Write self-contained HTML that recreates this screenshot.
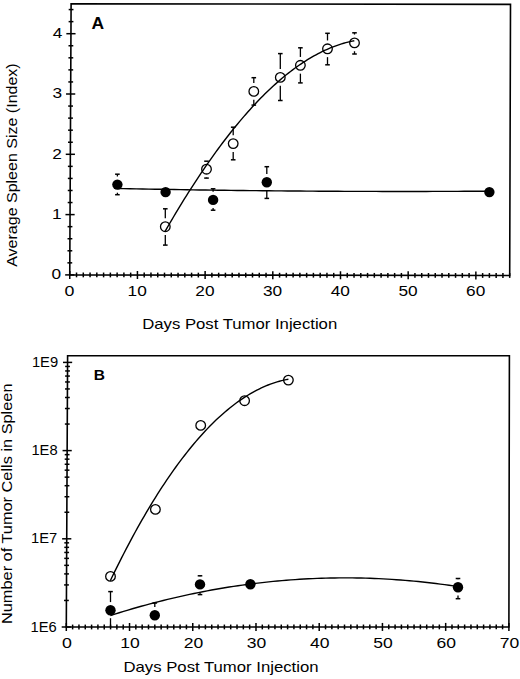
<!DOCTYPE html>
<html><head><meta charset="utf-8"><style>
html,body{margin:0;padding:0;background:#fff;width:520px;height:679px;overflow:hidden}
svg{display:block}
text{font-family:"Liberation Sans", sans-serif;fill:#000;stroke:none}
</style></head><body>
<svg width="520" height="679" viewBox="0 0 520 679">
<g stroke="#000" stroke-linecap="butt" fill="none">
<path d="M71.10,3.80 L510.50,4.40 L509.70,275.50 L69.75,274.90 Z" fill="none" stroke-width="1.6"/>
<line x1="69.75" y1="270.90" x2="69.75" y2="278.90" stroke-width="1.5"/>
<line x1="76.52" y1="272.51" x2="76.52" y2="277.31" stroke-width="1.5"/>
<line x1="83.29" y1="272.52" x2="83.29" y2="277.32" stroke-width="1.5"/>
<line x1="90.06" y1="272.53" x2="90.06" y2="277.33" stroke-width="1.5"/>
<line x1="96.82" y1="272.54" x2="96.82" y2="277.34" stroke-width="1.5"/>
<line x1="103.59" y1="272.55" x2="103.59" y2="277.35" stroke-width="1.5"/>
<line x1="110.36" y1="272.56" x2="110.36" y2="277.36" stroke-width="1.5"/>
<line x1="117.13" y1="272.56" x2="117.13" y2="277.36" stroke-width="1.5"/>
<line x1="123.90" y1="272.57" x2="123.90" y2="277.37" stroke-width="1.5"/>
<line x1="130.67" y1="272.58" x2="130.67" y2="277.38" stroke-width="1.5"/>
<line x1="137.43" y1="270.99" x2="137.43" y2="278.99" stroke-width="1.5"/>
<line x1="144.20" y1="272.60" x2="144.20" y2="277.40" stroke-width="1.5"/>
<line x1="150.97" y1="272.61" x2="150.97" y2="277.41" stroke-width="1.5"/>
<line x1="157.74" y1="272.62" x2="157.74" y2="277.42" stroke-width="1.5"/>
<line x1="164.51" y1="272.63" x2="164.51" y2="277.43" stroke-width="1.5"/>
<line x1="171.28" y1="272.64" x2="171.28" y2="277.44" stroke-width="1.5"/>
<line x1="178.05" y1="272.65" x2="178.05" y2="277.45" stroke-width="1.5"/>
<line x1="184.81" y1="272.66" x2="184.81" y2="277.46" stroke-width="1.5"/>
<line x1="191.58" y1="272.67" x2="191.58" y2="277.47" stroke-width="1.5"/>
<line x1="198.35" y1="272.68" x2="198.35" y2="277.48" stroke-width="1.5"/>
<line x1="205.12" y1="271.08" x2="205.12" y2="279.08" stroke-width="1.5"/>
<line x1="211.89" y1="272.69" x2="211.89" y2="277.49" stroke-width="1.5"/>
<line x1="218.66" y1="272.70" x2="218.66" y2="277.50" stroke-width="1.5"/>
<line x1="225.42" y1="272.71" x2="225.42" y2="277.51" stroke-width="1.5"/>
<line x1="232.19" y1="272.72" x2="232.19" y2="277.52" stroke-width="1.5"/>
<line x1="238.96" y1="272.73" x2="238.96" y2="277.53" stroke-width="1.5"/>
<line x1="245.73" y1="272.74" x2="245.73" y2="277.54" stroke-width="1.5"/>
<line x1="252.50" y1="272.75" x2="252.50" y2="277.55" stroke-width="1.5"/>
<line x1="259.27" y1="272.76" x2="259.27" y2="277.56" stroke-width="1.5"/>
<line x1="266.04" y1="272.77" x2="266.04" y2="277.57" stroke-width="1.5"/>
<line x1="272.80" y1="271.18" x2="272.80" y2="279.18" stroke-width="1.5"/>
<line x1="279.57" y1="272.79" x2="279.57" y2="277.59" stroke-width="1.5"/>
<line x1="286.34" y1="272.80" x2="286.34" y2="277.60" stroke-width="1.5"/>
<line x1="293.11" y1="272.80" x2="293.11" y2="277.60" stroke-width="1.5"/>
<line x1="299.88" y1="272.81" x2="299.88" y2="277.61" stroke-width="1.5"/>
<line x1="306.65" y1="272.82" x2="306.65" y2="277.62" stroke-width="1.5"/>
<line x1="313.41" y1="272.83" x2="313.41" y2="277.63" stroke-width="1.5"/>
<line x1="320.18" y1="272.84" x2="320.18" y2="277.64" stroke-width="1.5"/>
<line x1="326.95" y1="272.85" x2="326.95" y2="277.65" stroke-width="1.5"/>
<line x1="333.72" y1="272.86" x2="333.72" y2="277.66" stroke-width="1.5"/>
<line x1="340.49" y1="271.27" x2="340.49" y2="279.27" stroke-width="1.5"/>
<line x1="347.26" y1="272.88" x2="347.26" y2="277.68" stroke-width="1.5"/>
<line x1="354.03" y1="272.89" x2="354.03" y2="277.69" stroke-width="1.5"/>
<line x1="360.79" y1="272.90" x2="360.79" y2="277.70" stroke-width="1.5"/>
<line x1="367.56" y1="272.91" x2="367.56" y2="277.71" stroke-width="1.5"/>
<line x1="374.33" y1="272.92" x2="374.33" y2="277.72" stroke-width="1.5"/>
<line x1="381.10" y1="272.92" x2="381.10" y2="277.72" stroke-width="1.5"/>
<line x1="387.87" y1="272.93" x2="387.87" y2="277.73" stroke-width="1.5"/>
<line x1="394.64" y1="272.94" x2="394.64" y2="277.74" stroke-width="1.5"/>
<line x1="401.40" y1="272.95" x2="401.40" y2="277.75" stroke-width="1.5"/>
<line x1="408.17" y1="271.36" x2="408.17" y2="279.36" stroke-width="1.5"/>
<line x1="414.94" y1="272.97" x2="414.94" y2="277.77" stroke-width="1.5"/>
<line x1="421.71" y1="272.98" x2="421.71" y2="277.78" stroke-width="1.5"/>
<line x1="428.48" y1="272.99" x2="428.48" y2="277.79" stroke-width="1.5"/>
<line x1="435.25" y1="273.00" x2="435.25" y2="277.80" stroke-width="1.5"/>
<line x1="442.02" y1="273.01" x2="442.02" y2="277.81" stroke-width="1.5"/>
<line x1="448.78" y1="273.02" x2="448.78" y2="277.82" stroke-width="1.5"/>
<line x1="455.55" y1="273.03" x2="455.55" y2="277.83" stroke-width="1.5"/>
<line x1="462.32" y1="273.04" x2="462.32" y2="277.84" stroke-width="1.5"/>
<line x1="469.09" y1="273.04" x2="469.09" y2="277.84" stroke-width="1.5"/>
<line x1="475.86" y1="271.45" x2="475.86" y2="279.45" stroke-width="1.5"/>
<line x1="482.63" y1="273.06" x2="482.63" y2="277.86" stroke-width="1.5"/>
<line x1="489.39" y1="273.07" x2="489.39" y2="277.87" stroke-width="1.5"/>
<line x1="496.16" y1="273.08" x2="496.16" y2="277.88" stroke-width="1.5"/>
<line x1="502.93" y1="273.09" x2="502.93" y2="277.89" stroke-width="1.5"/>
<line x1="509.70" y1="273.10" x2="509.70" y2="277.90" stroke-width="1.5"/>
<line x1="65.15" y1="274.90" x2="74.35" y2="274.90" stroke-width="1.5"/>
<line x1="67.41" y1="262.84" x2="72.21" y2="262.84" stroke-width="1.5"/>
<line x1="67.47" y1="250.78" x2="72.27" y2="250.78" stroke-width="1.5"/>
<line x1="67.53" y1="238.72" x2="72.33" y2="238.72" stroke-width="1.5"/>
<line x1="67.59" y1="226.66" x2="72.39" y2="226.66" stroke-width="1.5"/>
<line x1="65.45" y1="214.60" x2="74.65" y2="214.60" stroke-width="1.5"/>
<line x1="67.71" y1="202.54" x2="72.51" y2="202.54" stroke-width="1.5"/>
<line x1="67.77" y1="190.48" x2="72.57" y2="190.48" stroke-width="1.5"/>
<line x1="67.83" y1="178.42" x2="72.63" y2="178.42" stroke-width="1.5"/>
<line x1="67.89" y1="166.36" x2="72.69" y2="166.36" stroke-width="1.5"/>
<line x1="65.75" y1="154.30" x2="74.95" y2="154.30" stroke-width="1.5"/>
<line x1="68.01" y1="142.24" x2="72.81" y2="142.24" stroke-width="1.5"/>
<line x1="68.07" y1="130.18" x2="72.87" y2="130.18" stroke-width="1.5"/>
<line x1="68.13" y1="118.12" x2="72.93" y2="118.12" stroke-width="1.5"/>
<line x1="68.19" y1="106.06" x2="72.99" y2="106.06" stroke-width="1.5"/>
<line x1="66.05" y1="94.00" x2="75.25" y2="94.00" stroke-width="1.5"/>
<line x1="68.31" y1="81.94" x2="73.11" y2="81.94" stroke-width="1.5"/>
<line x1="68.37" y1="69.88" x2="73.17" y2="69.88" stroke-width="1.5"/>
<line x1="68.43" y1="57.82" x2="73.23" y2="57.82" stroke-width="1.5"/>
<line x1="68.49" y1="45.76" x2="73.29" y2="45.76" stroke-width="1.5"/>
<line x1="66.35" y1="33.70" x2="75.55" y2="33.70" stroke-width="1.5"/>
<line x1="68.61" y1="21.64" x2="73.41" y2="21.64" stroke-width="1.5"/>
<line x1="68.67" y1="9.58" x2="73.47" y2="9.58" stroke-width="1.5"/>
<text x="69.5" y="295.8" font-size="15.5" text-anchor="middle" font-weight="normal" textLength="9.9" lengthAdjust="spacingAndGlyphs">0</text>
<text x="137.2" y="295.8" font-size="15.5" text-anchor="middle" font-weight="normal" textLength="19.2" lengthAdjust="spacingAndGlyphs">10</text>
<text x="204.9" y="295.8" font-size="15.5" text-anchor="middle" font-weight="normal" textLength="19.2" lengthAdjust="spacingAndGlyphs">20</text>
<text x="272.6" y="295.8" font-size="15.5" text-anchor="middle" font-weight="normal" textLength="19.2" lengthAdjust="spacingAndGlyphs">30</text>
<text x="340.3" y="295.8" font-size="15.5" text-anchor="middle" font-weight="normal" textLength="19.2" lengthAdjust="spacingAndGlyphs">40</text>
<text x="408.0" y="295.8" font-size="15.5" text-anchor="middle" font-weight="normal" textLength="19.2" lengthAdjust="spacingAndGlyphs">50</text>
<text x="475.7" y="295.8" font-size="15.5" text-anchor="middle" font-weight="normal" textLength="19.2" lengthAdjust="spacingAndGlyphs">60</text>
<text x="61.1" y="279.1" font-size="15.5" text-anchor="end" font-weight="normal" textLength="9.6" lengthAdjust="spacingAndGlyphs">0</text>
<text x="61.5" y="218.8" font-size="15.5" text-anchor="end" font-weight="normal" textLength="9.6" lengthAdjust="spacingAndGlyphs">1</text>
<text x="61.8" y="158.5" font-size="15.5" text-anchor="end" font-weight="normal" textLength="9.6" lengthAdjust="spacingAndGlyphs">2</text>
<text x="62.1" y="98.2" font-size="15.5" text-anchor="end" font-weight="normal" textLength="9.6" lengthAdjust="spacingAndGlyphs">3</text>
<text x="62.4" y="37.9" font-size="15.5" text-anchor="end" font-weight="normal" textLength="9.6" lengthAdjust="spacingAndGlyphs">4</text>
<text x="142.2" y="328.6" font-size="15" text-anchor="start" font-weight="normal" textLength="195" lengthAdjust="spacingAndGlyphs">Days Post Tumor Injection</text>
<text x="17.3" y="266.8" font-size="15" text-anchor="start" font-weight="normal" textLength="203.5" lengthAdjust="spacingAndGlyphs" transform="rotate(-90 17.3 266.8)">Average Spleen Size (Index)</text>
<text x="91.4" y="28.8" font-size="16" text-anchor="start" font-weight="bold" textLength="12.6" lengthAdjust="spacingAndGlyphs">A</text>
<path d="M165.10,231.34 L167.23,227.65 L169.35,223.99 L171.48,220.36 L173.60,216.76 L175.73,213.19 L177.86,209.65 L179.98,206.15 L182.11,202.68 L184.23,199.24 L186.36,195.83 L188.48,192.46 L190.61,189.12 L192.74,185.81 L194.86,182.54 L196.99,179.30 L199.11,176.09 L201.24,172.91 L203.37,169.77 L205.49,166.66 L207.62,163.59 L209.74,160.55 L211.87,157.54 L213.99,154.57 L216.12,151.63 L218.25,148.73 L220.37,145.86 L222.50,143.03 L224.62,140.23 L226.75,137.46 L228.88,134.74 L231.00,132.04 L233.13,129.38 L235.25,126.76 L237.38,124.18 L239.50,121.62 L241.63,119.11 L243.76,116.63 L245.88,114.19 L248.01,111.78 L250.13,109.41 L252.26,107.08 L254.39,104.78 L256.51,102.52 L258.64,100.30 L260.76,98.11 L262.89,95.97 L265.01,93.86 L267.14,91.78 L269.27,89.75 L271.39,87.75 L273.52,85.79 L275.64,83.87 L277.77,81.98 L279.90,80.14 L282.02,78.33 L284.15,76.56 L286.27,74.83 L288.40,73.14 L290.52,71.49 L292.65,69.88 L294.78,68.31 L296.90,66.77 L299.03,65.28 L301.15,63.83 L303.28,62.41 L305.41,61.04 L307.53,59.70 L309.66,58.41 L311.78,57.15 L313.91,55.94 L316.03,54.77 L318.16,53.63 L320.29,52.54 L322.41,51.49 L324.54,50.48 L326.66,49.52 L328.79,48.59 L330.92,47.70 L333.04,46.86 L335.17,46.06 L337.29,45.30 L339.42,44.58 L341.54,43.91 L343.67,43.27 L345.80,42.68 L347.92,42.14 L350.05,41.63 L352.17,41.17 L354.30,40.75" fill="none" stroke-width="1.4"/>
<path d="M117.40,188.45 L123.71,188.59 L130.01,188.71 L136.32,188.84 L142.62,188.96 L148.93,189.08 L155.23,189.20 L161.54,189.31 L167.84,189.42 L174.15,189.53 L180.45,189.64 L186.76,189.74 L193.06,189.84 L199.37,189.93 L205.67,190.03 L211.98,190.12 L218.28,190.20 L224.59,190.29 L230.89,190.37 L237.20,190.45 L243.50,190.52 L249.81,190.59 L256.11,190.66 L262.42,190.73 L268.72,190.79 L275.03,190.86 L281.33,190.91 L287.64,190.97 L293.94,191.02 L300.25,191.07 L306.55,191.11 L312.86,191.16 L319.16,191.20 L325.47,191.23 L331.77,191.27 L338.08,191.30 L344.38,191.33 L350.69,191.35 L356.99,191.38 L363.30,191.39 L369.60,191.41 L375.91,191.42 L382.21,191.44 L388.52,191.44 L394.82,191.45 L401.13,191.45 L407.43,191.45 L413.74,191.44 L420.04,191.44 L426.35,191.43 L432.65,191.41 L438.96,191.40 L445.26,191.38 L451.57,191.36 L457.87,191.33 L464.18,191.30 L470.48,191.27 L476.79,191.24 L483.09,191.20 L489.40,191.16" fill="none" stroke-width="1.4"/>
<line x1="165.30" y1="218.35" x2="165.30" y2="208.80" stroke-width="1.3"/>
<line x1="163.00" y1="208.80" x2="167.60" y2="208.80" stroke-width="1.5"/>
<line x1="165.30" y1="235.05" x2="165.30" y2="245.10" stroke-width="1.3"/>
<line x1="163.00" y1="245.10" x2="167.60" y2="245.10" stroke-width="1.5"/>
<circle cx="165.30" cy="226.70" r="4.80" fill="none" stroke-width="1.3"/>
<line x1="204.20" y1="161.20" x2="208.80" y2="161.20" stroke-width="1.5"/>
<line x1="206.50" y1="177.55" x2="206.50" y2="178.10" stroke-width="1.3"/>
<line x1="204.20" y1="178.10" x2="208.80" y2="178.10" stroke-width="1.5"/>
<circle cx="206.50" cy="169.20" r="4.80" fill="none" stroke-width="1.3"/>
<line x1="233.20" y1="135.25" x2="233.20" y2="127.20" stroke-width="1.3"/>
<line x1="230.90" y1="127.20" x2="235.50" y2="127.20" stroke-width="1.5"/>
<line x1="233.20" y1="151.95" x2="233.20" y2="159.80" stroke-width="1.3"/>
<line x1="230.90" y1="159.80" x2="235.50" y2="159.80" stroke-width="1.5"/>
<circle cx="233.20" cy="143.60" r="4.80" fill="none" stroke-width="1.3"/>
<line x1="253.80" y1="83.05" x2="253.80" y2="77.70" stroke-width="1.3"/>
<line x1="251.50" y1="77.70" x2="256.10" y2="77.70" stroke-width="1.5"/>
<line x1="253.80" y1="99.75" x2="253.80" y2="105.10" stroke-width="1.3"/>
<line x1="251.50" y1="105.10" x2="256.10" y2="105.10" stroke-width="1.5"/>
<circle cx="253.80" cy="91.40" r="4.80" fill="none" stroke-width="1.3"/>
<line x1="280.30" y1="69.05" x2="280.30" y2="53.60" stroke-width="1.3"/>
<line x1="278.00" y1="53.60" x2="282.60" y2="53.60" stroke-width="1.5"/>
<line x1="280.30" y1="85.75" x2="280.30" y2="100.50" stroke-width="1.3"/>
<line x1="278.00" y1="100.50" x2="282.60" y2="100.50" stroke-width="1.5"/>
<circle cx="280.30" cy="77.40" r="4.80" fill="none" stroke-width="1.3"/>
<line x1="300.40" y1="56.95" x2="300.40" y2="47.80" stroke-width="1.3"/>
<line x1="298.10" y1="47.80" x2="302.70" y2="47.80" stroke-width="1.5"/>
<line x1="300.40" y1="73.65" x2="300.40" y2="82.90" stroke-width="1.3"/>
<line x1="298.10" y1="82.90" x2="302.70" y2="82.90" stroke-width="1.5"/>
<circle cx="300.40" cy="65.30" r="4.80" fill="none" stroke-width="1.3"/>
<line x1="327.50" y1="40.45" x2="327.50" y2="33.30" stroke-width="1.3"/>
<line x1="325.20" y1="33.30" x2="329.80" y2="33.30" stroke-width="1.5"/>
<line x1="327.50" y1="57.15" x2="327.50" y2="64.80" stroke-width="1.3"/>
<line x1="325.20" y1="64.80" x2="329.80" y2="64.80" stroke-width="1.5"/>
<circle cx="327.50" cy="48.80" r="4.80" fill="none" stroke-width="1.3"/>
<line x1="354.50" y1="34.55" x2="354.50" y2="32.80" stroke-width="1.3"/>
<line x1="352.20" y1="32.80" x2="356.80" y2="32.80" stroke-width="1.5"/>
<line x1="354.50" y1="51.25" x2="354.50" y2="54.00" stroke-width="1.3"/>
<line x1="352.20" y1="54.00" x2="356.80" y2="54.00" stroke-width="1.5"/>
<circle cx="354.50" cy="42.90" r="4.80" fill="none" stroke-width="1.3"/>
<line x1="117.40" y1="176.50" x2="117.40" y2="174.20" stroke-width="1.3"/>
<line x1="115.10" y1="174.20" x2="119.70" y2="174.20" stroke-width="1.5"/>
<line x1="117.40" y1="192.70" x2="117.40" y2="194.70" stroke-width="1.3"/>
<line x1="115.10" y1="194.70" x2="119.70" y2="194.70" stroke-width="1.5"/>
<circle cx="117.40" cy="184.60" r="5.20" fill="#000" stroke="none"/>
<circle cx="165.60" cy="192.10" r="5.20" fill="#000" stroke="none"/>
<line x1="213.10" y1="191.80" x2="213.10" y2="188.80" stroke-width="1.3"/>
<line x1="210.80" y1="188.80" x2="215.40" y2="188.80" stroke-width="1.5"/>
<line x1="213.10" y1="208.00" x2="213.10" y2="210.20" stroke-width="1.3"/>
<line x1="210.80" y1="210.20" x2="215.40" y2="210.20" stroke-width="1.5"/>
<circle cx="213.10" cy="199.90" r="5.20" fill="#000" stroke="none"/>
<line x1="266.80" y1="174.10" x2="266.80" y2="166.70" stroke-width="1.3"/>
<line x1="264.50" y1="166.70" x2="269.10" y2="166.70" stroke-width="1.5"/>
<line x1="266.80" y1="190.30" x2="266.80" y2="198.40" stroke-width="1.3"/>
<line x1="264.50" y1="198.40" x2="269.10" y2="198.40" stroke-width="1.5"/>
<circle cx="266.80" cy="182.20" r="5.20" fill="#000" stroke="none"/>
<circle cx="489.40" cy="192.10" r="5.20" fill="#000" stroke="none"/>
<path d="M67.60,355.70 L509.40,355.80 L508.90,626.90 L66.30,627.00 Z" fill="none" stroke-width="1.6"/>
<line x1="66.30" y1="623.00" x2="66.30" y2="631.00" stroke-width="1.5"/>
<line x1="72.62" y1="624.60" x2="72.62" y2="629.40" stroke-width="1.5"/>
<line x1="78.95" y1="624.60" x2="78.95" y2="629.40" stroke-width="1.5"/>
<line x1="85.27" y1="624.60" x2="85.27" y2="629.40" stroke-width="1.5"/>
<line x1="91.59" y1="624.59" x2="91.59" y2="629.39" stroke-width="1.5"/>
<line x1="97.91" y1="624.59" x2="97.91" y2="629.39" stroke-width="1.5"/>
<line x1="104.24" y1="624.59" x2="104.24" y2="629.39" stroke-width="1.5"/>
<line x1="110.56" y1="624.59" x2="110.56" y2="629.39" stroke-width="1.5"/>
<line x1="116.88" y1="624.59" x2="116.88" y2="629.39" stroke-width="1.5"/>
<line x1="123.21" y1="624.59" x2="123.21" y2="629.39" stroke-width="1.5"/>
<line x1="129.53" y1="622.99" x2="129.53" y2="630.99" stroke-width="1.5"/>
<line x1="135.85" y1="624.58" x2="135.85" y2="629.38" stroke-width="1.5"/>
<line x1="142.17" y1="624.58" x2="142.17" y2="629.38" stroke-width="1.5"/>
<line x1="148.50" y1="624.58" x2="148.50" y2="629.38" stroke-width="1.5"/>
<line x1="154.82" y1="624.58" x2="154.82" y2="629.38" stroke-width="1.5"/>
<line x1="161.14" y1="624.58" x2="161.14" y2="629.38" stroke-width="1.5"/>
<line x1="167.47" y1="624.58" x2="167.47" y2="629.38" stroke-width="1.5"/>
<line x1="173.79" y1="624.58" x2="173.79" y2="629.38" stroke-width="1.5"/>
<line x1="180.11" y1="624.57" x2="180.11" y2="629.37" stroke-width="1.5"/>
<line x1="186.43" y1="624.57" x2="186.43" y2="629.37" stroke-width="1.5"/>
<line x1="192.76" y1="622.97" x2="192.76" y2="630.97" stroke-width="1.5"/>
<line x1="199.08" y1="624.57" x2="199.08" y2="629.37" stroke-width="1.5"/>
<line x1="205.40" y1="624.57" x2="205.40" y2="629.37" stroke-width="1.5"/>
<line x1="211.73" y1="624.57" x2="211.73" y2="629.37" stroke-width="1.5"/>
<line x1="218.05" y1="624.57" x2="218.05" y2="629.37" stroke-width="1.5"/>
<line x1="224.37" y1="624.56" x2="224.37" y2="629.36" stroke-width="1.5"/>
<line x1="230.69" y1="624.56" x2="230.69" y2="629.36" stroke-width="1.5"/>
<line x1="237.02" y1="624.56" x2="237.02" y2="629.36" stroke-width="1.5"/>
<line x1="243.34" y1="624.56" x2="243.34" y2="629.36" stroke-width="1.5"/>
<line x1="249.66" y1="624.56" x2="249.66" y2="629.36" stroke-width="1.5"/>
<line x1="255.99" y1="622.96" x2="255.99" y2="630.96" stroke-width="1.5"/>
<line x1="262.31" y1="624.56" x2="262.31" y2="629.36" stroke-width="1.5"/>
<line x1="268.63" y1="624.55" x2="268.63" y2="629.35" stroke-width="1.5"/>
<line x1="274.95" y1="624.55" x2="274.95" y2="629.35" stroke-width="1.5"/>
<line x1="281.28" y1="624.55" x2="281.28" y2="629.35" stroke-width="1.5"/>
<line x1="287.60" y1="624.55" x2="287.60" y2="629.35" stroke-width="1.5"/>
<line x1="293.92" y1="624.55" x2="293.92" y2="629.35" stroke-width="1.5"/>
<line x1="300.25" y1="624.55" x2="300.25" y2="629.35" stroke-width="1.5"/>
<line x1="306.57" y1="624.55" x2="306.57" y2="629.35" stroke-width="1.5"/>
<line x1="312.89" y1="624.54" x2="312.89" y2="629.34" stroke-width="1.5"/>
<line x1="319.21" y1="622.94" x2="319.21" y2="630.94" stroke-width="1.5"/>
<line x1="325.54" y1="624.54" x2="325.54" y2="629.34" stroke-width="1.5"/>
<line x1="331.86" y1="624.54" x2="331.86" y2="629.34" stroke-width="1.5"/>
<line x1="338.18" y1="624.54" x2="338.18" y2="629.34" stroke-width="1.5"/>
<line x1="344.51" y1="624.54" x2="344.51" y2="629.34" stroke-width="1.5"/>
<line x1="350.83" y1="624.54" x2="350.83" y2="629.34" stroke-width="1.5"/>
<line x1="357.15" y1="624.53" x2="357.15" y2="629.33" stroke-width="1.5"/>
<line x1="363.47" y1="624.53" x2="363.47" y2="629.33" stroke-width="1.5"/>
<line x1="369.80" y1="624.53" x2="369.80" y2="629.33" stroke-width="1.5"/>
<line x1="376.12" y1="624.53" x2="376.12" y2="629.33" stroke-width="1.5"/>
<line x1="382.44" y1="622.93" x2="382.44" y2="630.93" stroke-width="1.5"/>
<line x1="388.77" y1="624.53" x2="388.77" y2="629.33" stroke-width="1.5"/>
<line x1="395.09" y1="624.53" x2="395.09" y2="629.33" stroke-width="1.5"/>
<line x1="401.41" y1="624.52" x2="401.41" y2="629.32" stroke-width="1.5"/>
<line x1="407.73" y1="624.52" x2="407.73" y2="629.32" stroke-width="1.5"/>
<line x1="414.06" y1="624.52" x2="414.06" y2="629.32" stroke-width="1.5"/>
<line x1="420.38" y1="624.52" x2="420.38" y2="629.32" stroke-width="1.5"/>
<line x1="426.70" y1="624.52" x2="426.70" y2="629.32" stroke-width="1.5"/>
<line x1="433.03" y1="624.52" x2="433.03" y2="629.32" stroke-width="1.5"/>
<line x1="439.35" y1="624.52" x2="439.35" y2="629.32" stroke-width="1.5"/>
<line x1="445.67" y1="622.91" x2="445.67" y2="630.91" stroke-width="1.5"/>
<line x1="451.99" y1="624.51" x2="451.99" y2="629.31" stroke-width="1.5"/>
<line x1="458.32" y1="624.51" x2="458.32" y2="629.31" stroke-width="1.5"/>
<line x1="464.64" y1="624.51" x2="464.64" y2="629.31" stroke-width="1.5"/>
<line x1="470.96" y1="624.51" x2="470.96" y2="629.31" stroke-width="1.5"/>
<line x1="477.29" y1="624.51" x2="477.29" y2="629.31" stroke-width="1.5"/>
<line x1="483.61" y1="624.51" x2="483.61" y2="629.31" stroke-width="1.5"/>
<line x1="489.93" y1="624.50" x2="489.93" y2="629.30" stroke-width="1.5"/>
<line x1="496.25" y1="624.50" x2="496.25" y2="629.30" stroke-width="1.5"/>
<line x1="502.58" y1="624.50" x2="502.58" y2="629.30" stroke-width="1.5"/>
<line x1="508.90" y1="622.90" x2="508.90" y2="630.90" stroke-width="1.5"/>
<line x1="61.70" y1="627.00" x2="70.90" y2="627.00" stroke-width="1.5"/>
<line x1="64.03" y1="600.45" x2="68.83" y2="600.45" stroke-width="1.5"/>
<line x1="64.10" y1="584.92" x2="68.90" y2="584.92" stroke-width="1.5"/>
<line x1="64.15" y1="573.90" x2="68.95" y2="573.90" stroke-width="1.5"/>
<line x1="64.20" y1="565.35" x2="69.00" y2="565.35" stroke-width="1.5"/>
<line x1="64.23" y1="558.37" x2="69.03" y2="558.37" stroke-width="1.5"/>
<line x1="64.26" y1="552.46" x2="69.06" y2="552.46" stroke-width="1.5"/>
<line x1="64.28" y1="547.35" x2="69.08" y2="547.35" stroke-width="1.5"/>
<line x1="64.30" y1="542.84" x2="69.10" y2="542.84" stroke-width="1.5"/>
<line x1="62.12" y1="538.80" x2="71.32" y2="538.80" stroke-width="1.5"/>
<line x1="64.45" y1="512.25" x2="69.25" y2="512.25" stroke-width="1.5"/>
<line x1="64.52" y1="496.72" x2="69.32" y2="496.72" stroke-width="1.5"/>
<line x1="64.58" y1="485.70" x2="69.38" y2="485.70" stroke-width="1.5"/>
<line x1="64.62" y1="477.15" x2="69.42" y2="477.15" stroke-width="1.5"/>
<line x1="64.65" y1="470.17" x2="69.45" y2="470.17" stroke-width="1.5"/>
<line x1="64.68" y1="464.26" x2="69.48" y2="464.26" stroke-width="1.5"/>
<line x1="64.70" y1="459.15" x2="69.50" y2="459.15" stroke-width="1.5"/>
<line x1="64.73" y1="454.64" x2="69.53" y2="454.64" stroke-width="1.5"/>
<line x1="62.55" y1="450.60" x2="71.75" y2="450.60" stroke-width="1.5"/>
<line x1="64.87" y1="424.05" x2="69.67" y2="424.05" stroke-width="1.5"/>
<line x1="64.95" y1="408.52" x2="69.75" y2="408.52" stroke-width="1.5"/>
<line x1="65.00" y1="397.50" x2="69.80" y2="397.50" stroke-width="1.5"/>
<line x1="65.04" y1="388.95" x2="69.84" y2="388.95" stroke-width="1.5"/>
<line x1="65.07" y1="381.97" x2="69.87" y2="381.97" stroke-width="1.5"/>
<line x1="65.10" y1="376.06" x2="69.90" y2="376.06" stroke-width="1.5"/>
<line x1="65.13" y1="370.95" x2="69.93" y2="370.95" stroke-width="1.5"/>
<line x1="65.15" y1="366.44" x2="69.95" y2="366.44" stroke-width="1.5"/>
<line x1="62.97" y1="362.40" x2="72.17" y2="362.40" stroke-width="1.5"/>
<text x="66.9" y="648.1" font-size="15.5" text-anchor="middle" font-weight="normal" textLength="9.9" lengthAdjust="spacingAndGlyphs">0</text>
<text x="130.1" y="648.1" font-size="15.5" text-anchor="middle" font-weight="normal" textLength="19.5" lengthAdjust="spacingAndGlyphs">10</text>
<text x="193.4" y="648.1" font-size="15.5" text-anchor="middle" font-weight="normal" textLength="19.5" lengthAdjust="spacingAndGlyphs">20</text>
<text x="256.6" y="648.1" font-size="15.5" text-anchor="middle" font-weight="normal" textLength="19.5" lengthAdjust="spacingAndGlyphs">30</text>
<text x="319.8" y="648.1" font-size="15.5" text-anchor="middle" font-weight="normal" textLength="19.5" lengthAdjust="spacingAndGlyphs">40</text>
<text x="383.0" y="648.1" font-size="15.5" text-anchor="middle" font-weight="normal" textLength="19.5" lengthAdjust="spacingAndGlyphs">50</text>
<text x="446.3" y="648.1" font-size="15.5" text-anchor="middle" font-weight="normal" textLength="19.5" lengthAdjust="spacingAndGlyphs">60</text>
<text x="509.5" y="648.1" font-size="15.5" text-anchor="middle" font-weight="normal" textLength="19.5" lengthAdjust="spacingAndGlyphs">70</text>
<text x="56.8" y="631.6" font-size="15.5" text-anchor="end" font-weight="normal" textLength="26.2" lengthAdjust="spacingAndGlyphs">1E6</text>
<text x="57.2" y="543.4" font-size="15.5" text-anchor="end" font-weight="normal" textLength="26.2" lengthAdjust="spacingAndGlyphs">1E7</text>
<text x="57.6" y="455.2" font-size="15.5" text-anchor="end" font-weight="normal" textLength="26.2" lengthAdjust="spacingAndGlyphs">1E8</text>
<text x="58.1" y="367.0" font-size="15.5" text-anchor="end" font-weight="normal" textLength="26.2" lengthAdjust="spacingAndGlyphs">1E9</text>
<text x="123.5" y="672.4" font-size="15" text-anchor="start" font-weight="normal" textLength="195" lengthAdjust="spacingAndGlyphs">Days Post Tumor Injection</text>
<text x="12.0" y="624.0" font-size="14.5" text-anchor="start" font-weight="normal" textLength="240.5" lengthAdjust="spacingAndGlyphs" transform="rotate(-90 12.0 624.0)">Number of Tumor Cells in Spleen</text>
<text x="93.8" y="379.8" font-size="15.5" text-anchor="start" font-weight="bold">B</text>
<path d="M110.30,580.71 L112.55,576.04 L114.81,571.42 L117.06,566.85 L119.32,562.34 L121.57,557.88 L123.83,553.48 L126.08,549.13 L128.34,544.84 L130.59,540.60 L132.84,536.41 L135.10,532.28 L137.35,528.21 L139.61,524.19 L141.86,520.22 L144.12,516.31 L146.37,512.45 L148.63,508.64 L150.88,504.90 L153.13,501.20 L155.39,497.56 L157.64,493.98 L159.90,490.44 L162.15,486.97 L164.41,483.55 L166.66,480.18 L168.92,476.86 L171.17,473.61 L173.42,470.40 L175.68,467.25 L177.93,464.16 L180.19,461.12 L182.44,458.13 L184.70,455.20 L186.95,452.32 L189.21,449.50 L191.46,446.73 L193.71,444.02 L195.97,441.36 L198.22,438.75 L200.48,436.20 L202.73,433.71 L204.99,431.26 L207.24,428.88 L209.49,426.54 L211.75,424.27 L214.00,422.04 L216.26,419.87 L218.51,417.76 L220.77,415.70 L223.02,413.69 L225.28,411.74 L227.53,409.85 L229.78,408.00 L232.04,406.22 L234.29,404.48 L236.55,402.80 L238.80,401.18 L241.06,399.61 L243.31,398.09 L245.57,396.63 L247.82,395.23 L250.07,393.88 L252.33,392.58 L254.58,391.33 L256.84,390.15 L259.09,389.01 L261.35,387.93 L263.60,386.91 L265.86,385.94 L268.11,385.02 L270.36,384.16 L272.62,383.35 L274.87,382.60 L277.13,381.90 L279.38,381.26 L281.64,380.67 L283.89,380.13 L286.15,379.65 L288.40,379.23" fill="none" stroke-width="1.4"/>
<path d="M110.40,615.51 L114.80,614.12 L119.20,612.74 L123.60,611.40 L127.99,610.08 L132.39,608.79 L136.79,607.53 L141.19,606.29 L145.59,605.07 L149.99,603.89 L154.39,602.73 L158.79,601.60 L163.18,600.49 L167.58,599.41 L171.98,598.36 L176.38,597.33 L180.78,596.33 L185.18,595.35 L189.58,594.41 L193.98,593.48 L198.37,592.59 L202.77,591.72 L207.17,590.88 L211.57,590.06 L215.97,589.27 L220.37,588.51 L224.77,587.77 L229.17,587.06 L233.56,586.38 L237.96,585.72 L242.36,585.09 L246.76,584.49 L251.16,583.91 L255.56,583.36 L259.96,582.83 L264.36,582.34 L268.75,581.86 L273.15,581.42 L277.55,581.00 L281.95,580.61 L286.35,580.24 L290.75,579.90 L295.15,579.59 L299.55,579.30 L303.94,579.04 L308.34,578.81 L312.74,578.60 L317.14,578.42 L321.54,578.26 L325.94,578.13 L330.34,578.03 L334.74,577.96 L339.13,577.91 L343.53,577.88 L347.93,577.89 L352.33,577.92 L356.73,577.98 L361.13,578.06 L365.53,578.17 L369.93,578.30 L374.32,578.47 L378.72,578.66 L383.12,578.87 L387.52,579.11 L391.92,579.38 L396.32,579.68 L400.72,580.00 L405.12,580.34 L409.51,580.72 L413.91,581.12 L418.31,581.55 L422.71,582.00 L427.11,582.48 L431.51,582.98 L435.91,583.52 L440.31,584.08 L444.70,584.66 L449.10,585.27 L453.50,585.91 L457.90,586.58" fill="none" stroke-width="1.4"/>
<circle cx="110.50" cy="576.40" r="4.80" fill="none" stroke-width="1.3"/>
<circle cx="155.40" cy="509.40" r="4.80" fill="none" stroke-width="1.3"/>
<circle cx="200.70" cy="425.40" r="4.80" fill="none" stroke-width="1.3"/>
<circle cx="244.60" cy="400.70" r="4.80" fill="none" stroke-width="1.3"/>
<circle cx="288.40" cy="380.10" r="4.80" fill="none" stroke-width="1.3"/>
<line x1="110.50" y1="618.20" x2="110.50" y2="626.80" stroke-width="1.3"/>
<line x1="110.50" y1="602.10" x2="110.50" y2="591.60" stroke-width="1.3"/>
<line x1="108.20" y1="591.60" x2="112.80" y2="591.60" stroke-width="1.5"/>
<circle cx="110.50" cy="610.20" r="5.20" fill="#000" stroke="none"/>
<line x1="154.80" y1="607.10" x2="154.80" y2="603.00" stroke-width="1.3"/>
<line x1="152.50" y1="603.00" x2="157.10" y2="603.00" stroke-width="1.5"/>
<circle cx="154.80" cy="615.20" r="5.20" fill="#000" stroke="none"/>
<line x1="200.00" y1="576.30" x2="200.00" y2="575.80" stroke-width="1.3"/>
<line x1="197.70" y1="575.80" x2="202.30" y2="575.80" stroke-width="1.5"/>
<line x1="200.00" y1="592.50" x2="200.00" y2="594.60" stroke-width="1.3"/>
<line x1="197.70" y1="594.60" x2="202.30" y2="594.60" stroke-width="1.5"/>
<circle cx="200.00" cy="584.40" r="5.20" fill="#000" stroke="none"/>
<circle cx="250.40" cy="584.30" r="5.20" fill="#000" stroke="none"/>
<line x1="458.00" y1="579.20" x2="458.00" y2="578.50" stroke-width="1.3"/>
<line x1="455.70" y1="578.50" x2="460.30" y2="578.50" stroke-width="1.5"/>
<line x1="458.00" y1="595.40" x2="458.00" y2="598.70" stroke-width="1.3"/>
<line x1="455.70" y1="598.70" x2="460.30" y2="598.70" stroke-width="1.5"/>
<circle cx="458.00" cy="587.30" r="5.20" fill="#000" stroke="none"/>
</g>
</svg>
</body></html>
